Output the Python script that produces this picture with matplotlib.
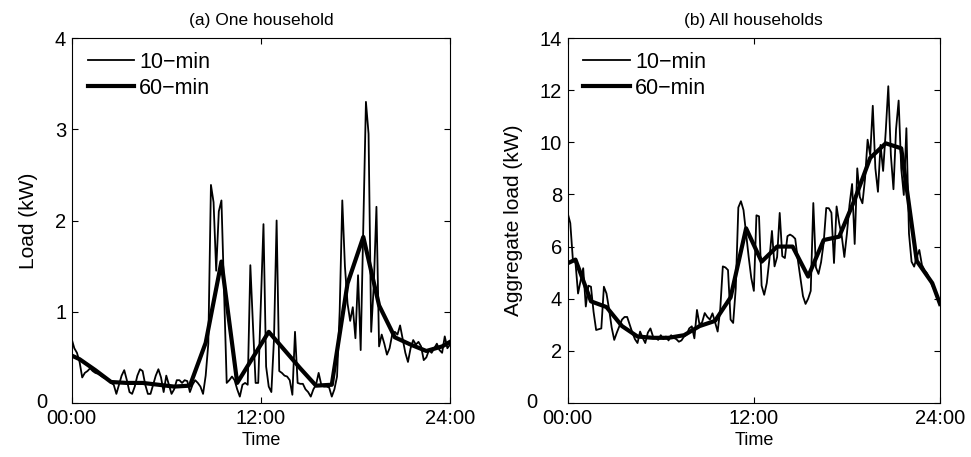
import numpy as np
import matplotlib
matplotlib.use("Agg")
import matplotlib.pyplot as plt
import matplotlib.transforms as mtransforms

plt.rcParams['font.family'] = ['Liberation Sans', 'DejaVu Sans']

# 10-min samples (00:00 .. 24:00, 145 points) and hourly averages
load_10min_one = [
    0.70, 0.60, 0.55, 0.45, 0.28, 0.33, 0.35, 0.38, 0.35, 0.33,
    0.32, 0.30, 0.28, 0.27, 0.25, 0.22, 0.20, 0.10, 0.20, 0.30,
    0.36, 0.25, 0.12, 0.10, 0.18, 0.30, 0.37, 0.35, 0.20, 0.10,
    0.10, 0.20, 0.30, 0.37, 0.28, 0.12, 0.30, 0.20, 0.10, 0.15,
    0.25, 0.25, 0.22, 0.25, 0.24, 0.12, 0.20, 0.25, 0.22, 0.18,
    0.10, 0.30, 0.65, 2.39, 2.20, 1.45, 2.10, 2.22, 1.20, 0.22,
    0.25, 0.29, 0.25, 0.15, 0.07, 0.20, 0.22, 0.20, 1.51, 0.85,
    0.22, 0.22, 1.10, 1.96, 0.40, 0.18, 0.12, 0.70, 2.00, 0.35,
    0.33, 0.30, 0.29, 0.25, 0.09, 0.78, 0.22, 0.21, 0.21, 0.15,
    0.12, 0.07, 0.15, 0.20, 0.33, 0.20, 0.18, 0.18, 0.17, 0.07,
    0.15, 0.29, 1.00, 2.22, 1.50, 1.09, 0.90, 1.05, 0.71, 1.40,
    0.58, 1.95, 3.30, 2.95, 0.78, 1.30, 2.15, 0.62, 0.75, 0.65,
    0.53, 0.60, 0.75, 0.78, 0.75, 0.85, 0.70, 0.55, 0.45, 0.60,
    0.69, 0.64, 0.67, 0.62, 0.47, 0.50, 0.58, 0.55, 0.60, 0.65,
    0.58, 0.55, 0.73, 0.60, 0.64,
]
load_60min_one = [
    0.52, 0.48, 0.36, 0.23, 0.22, 0.22, 0.20, 0.18, 0.19, 0.66,
    1.55, 0.22, 0.50, 0.78, 0.58, 0.38, 0.19, 0.20, 1.31, 1.82,
    1.07, 0.72, 0.64, 0.57, 0.62, 0.67,
]

load_10min_all = [
    7.28, 6.90, 5.50, 5.40, 4.20, 4.70, 5.17, 3.70, 4.50, 4.46,
    3.50, 2.80, 2.83, 2.86, 4.46, 4.20, 3.60, 2.90, 2.42, 2.70,
    2.95, 3.20, 3.30, 3.30, 3.00, 2.70, 2.45, 2.30, 2.74, 2.50,
    2.30, 2.70, 2.86, 2.55, 2.50, 2.42, 2.60, 2.45, 2.55, 2.40,
    2.60, 2.50, 2.45, 2.35, 2.40, 2.55, 2.62, 2.86, 2.94, 2.48,
    3.57, 3.00, 3.10, 3.45, 3.30, 3.20, 3.44, 3.10, 2.74, 3.60,
    5.24, 5.20, 5.10, 3.20, 3.07, 4.40, 7.50, 7.74, 7.40, 6.50,
    5.60, 4.80, 4.30, 7.20, 7.16, 4.50, 4.15, 4.60, 5.50, 6.60,
    5.24, 5.60, 7.29, 5.63, 5.56, 6.40, 6.46, 6.40, 6.30, 5.50,
    4.80, 4.10, 3.80, 4.00, 4.30, 7.67, 5.20, 4.95, 5.40, 6.14,
    7.48, 7.47, 7.30, 5.37, 7.54, 6.90, 6.40, 5.60, 6.50, 7.60,
    8.40, 6.10, 9.00, 7.90, 7.66, 8.60, 10.10, 9.50, 11.40, 9.00,
    8.10, 9.90, 8.90, 10.40, 12.15, 9.50, 8.20, 10.50, 11.60, 9.00,
    7.98, 10.54, 6.50, 5.42, 5.23, 5.60, 5.87, 5.30, 5.10, 4.97,
    4.75, 4.50, 4.35, 4.10, 3.80,
]
load_60min_all = [
    5.36, 5.50, 3.90, 3.68, 2.95, 2.55, 2.50, 2.50, 2.60, 2.95,
    3.15, 4.05, 6.70, 5.42, 6.00, 6.00, 4.85, 6.25, 6.38, 7.80,
    9.40, 9.96, 9.77, 5.45, 4.60, 3.80,
]

hours_10min = np.arange(145) / 6.0
hours_60min = np.concatenate([[0.0], np.arange(24) + 0.5, [24.0]])

x_ticks = [0, 12, 24]
x_tick_labels = ['00:00', '12:00', '24:00']

panels = [
    ('(a) One household', 'Load (kW)', load_10min_one, load_60min_one,
     [0, 1, 2, 3, 4], 4),
    ('(b) All households', 'Aggregate load (kW)', load_10min_all, load_60min_all,
     [0, 2, 4, 6, 8, 10, 12, 14], 14),
]
axes_rects = [
    [71.7 / 971, 54 / 457, 378.3 / 971, 365 / 457],
    [567.7 / 971, 54 / 457, 372.3 / 971, 365 / 457],
]
zero_shift = [(-24, 0), (-30, 0)]

fig = plt.figure(figsize=(9.71, 4.57), dpi=100)

for rect, (title, ylabel, thin, thick, yticks, ymax), shift in zip(axes_rects, panels, zero_shift):
    ax = fig.add_axes(rect)
    ax.plot(hours_10min, thin, color='black', lw=1.3, label='10\u2212min')
    ax.plot(hours_60min, thick, color='black', lw=3.0, label='60\u2212min')

    ax.set_xlim(0, 24)
    ax.set_ylim(0, ymax)
    ax.set_xticks(x_ticks)
    ax.set_xticklabels(x_tick_labels)
    ax.set_yticks(yticks)
    ax.set_yticklabels([''] + [str(v) for v in yticks[1:]])
    ax.tick_params(direction='in', length=4, width=0.8, top=True, right=True,
                   labelsize=14.5, pad=4)
    for sp in ax.spines.values():
        sp.set_linewidth(0.8)

    # MATLAB puts the zero label a bit off the corner
    offset = mtransforms.ScaledTranslation(shift[0] / 100, shift[1] / 100, fig.dpi_scale_trans)
    ax.text(0, 0, '0', transform=ax.transAxes + offset, ha='right', va='center', fontsize=14.5)

    ax.set_title(title, fontsize=12.5, pad=9)
    ax.set_xlabel('Time', fontsize=13, labelpad=3)
    ax.set_ylabel(ylabel, fontsize=15, labelpad=12)

    ax.legend(loc='upper left', bbox_to_anchor=(0.042, 0.962), frameon=False,
              fontsize=15.5, handlelength=2.15, handletextpad=0.25,
              labelspacing=0.22, borderaxespad=0, borderpad=0)

fig.savefig('out.png', dpi=100)
